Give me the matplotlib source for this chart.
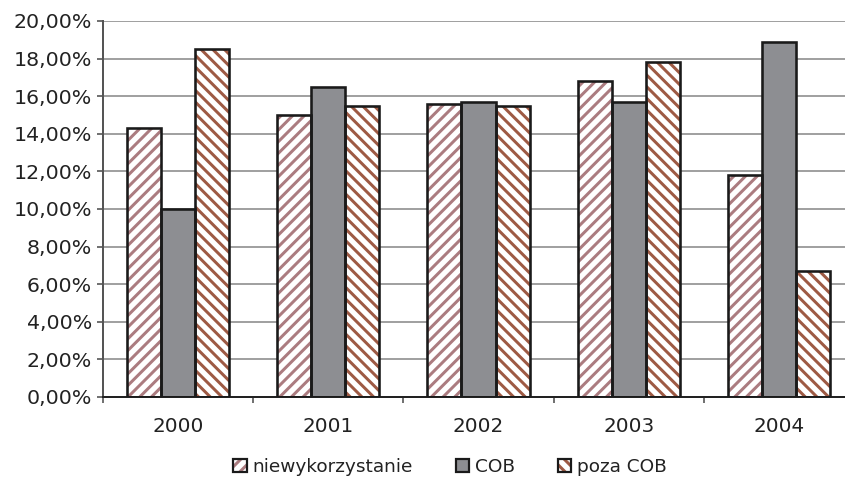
import matplotlib
matplotlib.use("Agg")
import matplotlib.pyplot as plt
import numpy as np
from matplotlib.patches import Patch
from matplotlib.ticker import FuncFormatter, FixedLocator

# dane: udział w poszczególnych latach (%)
lata = ["2000", "2001", "2002", "2003", "2004"]
niewykorzystanie = [14.3, 15.0, 15.6, 16.8, 11.8]
cob = [10.0, 16.5, 15.7, 15.7, 18.9]
poza_cob = [18.5, 15.5, 15.5, 17.8, 6.7]

DPI = 140
def px(v):
    return v * 72.0 / DPI

plt.rcParams["font.family"] = ["DejaVu Sans"]
plt.rcParams["hatch.linewidth"] = px(3.0)

fig = plt.figure(figsize=(845 / DPI, 477 / DPI), dpi=DPI)
ax = fig.add_axes([103 / 845, 1 - 397 / 477, (854 - 103) / 845, (397 - 21) / 477])

x = np.arange(len(lata))
w = 0.227
serie = [
    ("niewykorzystanie", niewykorzystanie, "white", "#ab7c80", "////"),
    ("COB", cob, "#8d8e92", None, None),
    ("poza COB", poza_cob, "white", "#9e5a44", "\\\\\\\\"),
]

uchwyty = []
for i, (nazwa, wart, fc, hc, wzor) in enumerate(serie):
    pos = x + (i - 1) * w
    if wzor:
        ax.bar(pos, wart, w, color=fc, edgecolor=hc, hatch=wzor, linewidth=0, zorder=2)
        tlo = Patch(facecolor=fc, edgecolor=hc, hatch=wzor, linewidth=0)
    else:
        ax.bar(pos, wart, w, color=fc, linewidth=0, zorder=2)
        tlo = Patch(facecolor=fc, linewidth=0)
    ax.bar(pos, wart, w, fill=False, edgecolor="#1a1a1a", linewidth=px(2.6), zorder=3)
    ramka = Patch(facecolor="none", edgecolor="#1a1a1a", linewidth=px(2.2))
    uchwyty.append(((tlo, ramka), nazwa))

ax.set_xlim(-0.5, 4.5)
ax.set_ylim(0, 20)
ax.yaxis.set_major_locator(FixedLocator(np.arange(0, 20.01, 2)))
ax.yaxis.set_major_formatter(FuncFormatter(lambda v, p: f"{v:.2f}".replace(".", ",") + "%"))
ax.yaxis.grid(True, color="#8a8a8a", linewidth=px(1.6), zorder=0)
ax.set_axisbelow(True)

ax.set_xticks(x)
ax.set_xticklabels(lata)
ax.set_xticks(np.arange(-0.5, 4.6, 1), minor=True)
ax.tick_params(axis="x", which="major", length=0, pad=px(20), labelsize=px(20))
ax.tick_params(axis="x", which="minor", length=px(6), width=px(1.5), color="#444")
ax.tick_params(axis="y", length=px(6), width=px(1.5), color="#444", pad=px(5),
               labelsize=px(20.5), labelcolor="#222")
ax.tick_params(axis="x", labelcolor="#222")

for s in ["top", "right"]:
    ax.spines[s].set_visible(False)
ax.spines["left"].set_color("#555")
ax.spines["left"].set_linewidth(px(2))
ax.spines["bottom"].set_color("#222")
ax.spines["bottom"].set_linewidth(px(2))

fig.legend([h for h, _ in uchwyty], [n for _, n in uchwyty],
           loc="center", bbox_to_anchor=(450 / 845, 1 - 467 / 477), ncol=3,
           frameon=False, fontsize=px(18.5), handlelength=0.75, handleheight=0.75,
           handletextpad=0.3, columnspacing=2.3, labelcolor="#222")

fig.savefig("out.png", dpi=DPI)
